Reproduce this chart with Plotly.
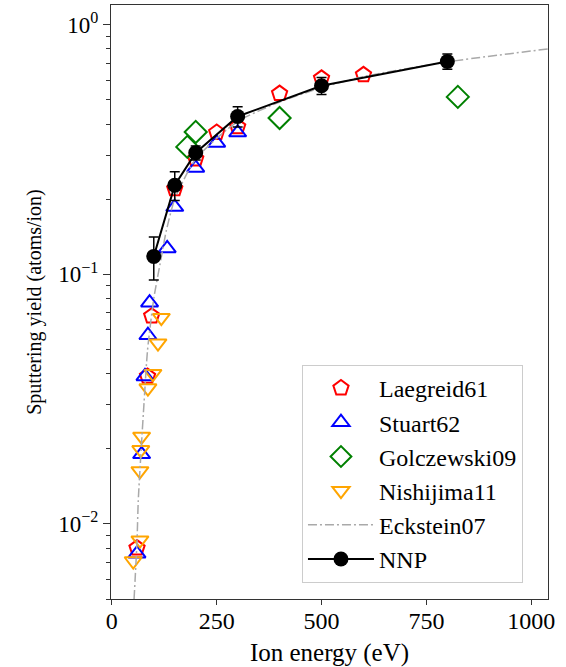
import plotly.graph_objects as go

# Laegreid61
laeg_x = [60, 85, 95, 150, 200, 250, 300, 400, 500, 600]
laeg_y = [0.008, 0.039, 0.068, 0.22, 0.29, 0.37, 0.39, 0.53, 0.61, 0.63]
# Stuart62
stu_x = [60, 71, 79, 86, 90, 132, 150, 200, 250, 300]
stu_y = [0.0076, 0.019, 0.039, 0.057, 0.077, 0.127, 0.186, 0.267, 0.336, 0.37]
# Golczewski09
gol_x = [180, 200, 400, 825]
gol_y = [0.324, 0.372, 0.423, 0.514]
# Nishijima11
nis_x = [51, 67, 67, 69, 71, 86, 98, 110, 118]
nis_y = [0.0071, 0.0086, 0.0163, 0.0198, 0.0224, 0.035, 0.040, 0.053, 0.067]
# Eckstein07
eck_x = [53, 60, 63, 70, 77, 85, 100, 115, 130, 150, 200, 300, 400, 500, 600, 800, 1040]
eck_y = [0.005, 0.0085, 0.0124, 0.02, 0.031, 0.0495, 0.08, 0.11, 0.15, 0.2, 0.29, 0.41, 0.49, 0.56, 0.62, 0.71, 0.80]
# NNP
nnp_x = [100, 150, 200, 300, 500, 800]
nnp_y = [0.118, 0.2275, 0.307, 0.429, 0.570, 0.713]
nnp_err = [0.023, 0.03, 0.02, 0.04, 0.045, 0.05]

x_ticks = [0, 250, 500, 750, 1000]
y_ticks = [0.01, 0.1, 1]
y_ticktext = ["10<sup>−2</sup>", "10<sup>−1</sup>", "10<sup>0</sup>"]
y_minor = [m * d for d in (0.001, 0.01, 0.1) for m in range(2, 10)]

FONT = "Liberation Serif"

fig = go.Figure()
fig.add_trace(go.Scatter(x=laeg_x, y=laeg_y, mode="markers", name="Laegreid61",
                         legendgroup="a",
                         marker=dict(symbol="pentagon-open", size=16, color="red",
                                     line=dict(width=2, color="red"))))
fig.add_trace(go.Scatter(x=stu_x, y=stu_y, mode="markers", name="Stuart62",
                         legendgroup="b",
                         marker=dict(symbol="triangle-up-open", size=15, color="blue",
                                     line=dict(width=2, color="blue"))))
fig.add_trace(go.Scatter(x=gol_x, y=gol_y, mode="markers", name="Golczewski09",
                         legendgroup="c",
                         marker=dict(symbol="diamond-open", size=17, color="green",
                                     line=dict(width=2, color="green"))))
fig.add_trace(go.Scatter(x=nis_x, y=nis_y, mode="markers", name="Nishijima11",
                         legendgroup="d",
                         marker=dict(symbol="triangle-down-open", size=15, color="orange",
                                     line=dict(width=2, color="orange"))))
fig.add_trace(go.Scatter(x=eck_x, y=eck_y, mode="lines", name="Eckstein07",
                         legendgroup="e",
                         line=dict(color="#a9a9a9", width=1.5, dash="9px,3px,2px,3px",
                                   shape="spline", smoothing=0.6)))
fig.add_trace(go.Scatter(x=nnp_x, y=nnp_y, mode="lines+markers", name="NNP",
                         legendgroup="f",
                         line=dict(color="black", width=2),
                         marker=dict(symbol="circle", size=15, color="black"),
                         error_y=dict(type="data", array=nnp_err, visible=True,
                                      color="black", thickness=1.5, width=5)))

fig.update_layout(
    width=566, height=667,
    margin=dict(l=111, r=18, t=5, b=68, autoexpand=False),
    paper_bgcolor="white", plot_bgcolor="white",
    font=dict(family=FONT, size=22, color="black"),
    showlegend=True,
    legend=dict(x=0.437, y=0.394, xanchor="left", yanchor="top",
                bgcolor="rgba(255,255,255,0.8)", bordercolor="#cccccc", borderwidth=1,
                font=dict(family=FONT, size=24), tracegroupgap=0, itemwidth=66),
)
fig.update_xaxes(range=[-2, 1040], tickvals=x_ticks, ticks="outside", ticklen=5,
                 tickwidth=1, tickcolor="#333", showline=True, linecolor="#333",
                 linewidth=1, mirror=True, showgrid=False, zeroline=False,
                 automargin=False, tickfont=dict(size=24), ticklabelstandoff=-5,
                 title=dict(text="Ion energy (eV)", standoff=11, font=dict(size=25)))
fig.update_yaxes(type="log", range=[-2.301, 0.0792], tickvals=y_ticks,
                 ticktext=y_ticktext, ticks="outside", ticklen=7, tickwidth=1,
                 tickcolor="#333", showline=True, linecolor="#333", linewidth=1,
                 mirror=True, showgrid=False, zeroline=False, automargin=False,
                 tickfont=dict(size=23),
                 minor=dict(tickvals=y_minor, ticks="outside", ticklen=4,
                            tickwidth=1, tickcolor="#333", showgrid=False),
                 title=dict(text="Sputtering yield (atoms/ion)", standoff=11,
                            font=dict(size=20)))

fig.write_html("out.html", config={"displayModeBar": False},
               post_script="document.body.style.margin='0';")
